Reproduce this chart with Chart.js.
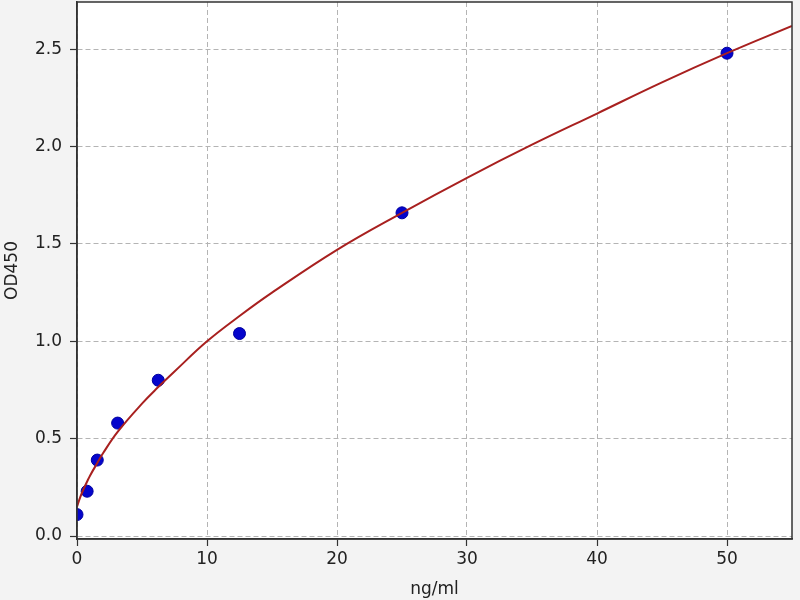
<!DOCTYPE html>
<html>
<head>
<meta charset="utf-8">
<script src="https://cdn.jsdelivr.net/npm/chart.js@4.4.1/dist/chart.umd.min.js"></script>
<style>
  html, body { margin: 0; padding: 0; background: #f3f3f3; }
  canvas { display: block; }
</style>
</head>
<body>
<canvas id="curveChart" width="800" height="600"></canvas>
<script>
// Standard concentrations (ng/ml) and measured OD450
var concentrations = [0, 0.78, 1.56, 3.125, 6.25, 12.5, 25, 50];
var odValues = [0.11, 0.23, 0.39, 0.58, 0.80, 1.04, 1.66, 2.48];

// Fitted curve
var fitX = [0, 0.25, 0.5, 0.78, 1, 1.56, 2, 3.125, 5, 6.25, 7.5, 10, 12.5, 15, 20, 25, 30, 35, 40, 45, 50, 55];
var fitY = [0.15, 0.20, 0.24, 0.28, 0.31, 0.375, 0.425, 0.535, 0.68, 0.765, 0.845, 1.00, 1.13, 1.25, 1.47, 1.66, 1.84, 2.01, 2.17, 2.33, 2.48, 2.62];

var xTicks = [0, 10, 20, 30, 40, 50];
var yTicks = [0, 0.5, 1.0, 1.5, 2.0, 2.5];

function pairs(xs, ys) {
    return xs.map(function (x, i) { return { x: x, y: ys[i] }; });
}

// white plot area + frame on all four sides
var framePlugin = {
    id: 'frame',
    beforeDraw: function (chart) {
        var c = chart.ctx, a = chart.chartArea;
        c.save();
        c.fillStyle = '#f3f3f3';
        c.fillRect(0, 0, chart.width, chart.height);
        c.fillStyle = '#ffffff';
        c.fillRect(a.left, a.top, a.right - a.left, a.bottom - a.top);
        c.restore();
    },
    afterDraw: function (chart) {
        var c = chart.ctx, a = chart.chartArea;
        c.save();
        c.strokeStyle = '#333333';
        c.lineWidth = 1.5;
        c.strokeRect(a.left, a.top, a.right - a.left, a.bottom - a.top);
        c.restore();
    }
};

var font = { family: 'DejaVu Sans', size: 17 };
var gridOpts = {
    color: '#b4b4b4',
    lineWidth: 1,
    tickLength: 7,
    tickColor: '#333333',
    tickWidth: 1.2
};
var borderOpts = { display: true, color: '#333333', width: 1.5, dash: [5, 3] };

new Chart(document.getElementById('curveChart').getContext('2d'), {
    type: 'scatter',
    data: {
        datasets: [{
            type: 'line',
            label: 'fit',
            data: pairs(fitX, fitY),
            borderColor: '#a8201f',
            borderWidth: 2,
            pointRadius: 0,
            fill: false,
            tension: 0.4
        }, {
            label: 'standards',
            data: pairs(concentrations, odValues),
            backgroundColor: '#0505cc',
            borderColor: '#0000a0',
            borderWidth: 1,
            pointRadius: 6,
            clip: 0
        }]
    },
    plugins: [framePlugin],
    options: {
        responsive: false,
        devicePixelRatio: 1,
        animation: false,
        layout: { autoPadding: false, padding: { top: 2, right: 8, left: 0, bottom: 0 } },
        plugins: {
            legend: { display: false },
            tooltip: { enabled: false }
        },
        scales: {
            x: {
                type: 'linear',
                min: 0,
                max: 55,
                afterFit: function (s) { s.height = 61; s.paddingLeft = 0; s.paddingRight = 0; },
                afterBuildTicks: function (s) { s.ticks = xTicks.map(function (v) { return { value: v }; }); },
                ticks: { font: font, color: '#222222', padding: 3, includeBounds: false },
                grid: gridOpts,
                border: borderOpts,
                title: { display: true, text: 'ng/ml', font: font, color: '#222222', padding: { top: 0, bottom: 0 } }
            },
            y: {
                type: 'linear',
                min: -0.0154,
                max: 2.743,
                afterFit: function (s) { s.width = 77; s.paddingTop = 0; s.paddingBottom = 0; },
                afterBuildTicks: function (s) { s.ticks = yTicks.map(function (v) { return { value: v }; }); },
                ticks: {
                    font: font, color: '#222222', padding: 8, includeBounds: false,
                    callback: function (v) { return v.toFixed(1); }
                },
                grid: gridOpts,
                border: borderOpts,
                title: { display: true, text: 'OD450', font: font, color: '#222222', padding: { top: 2, bottom: 0 } }
            }
        }
    }
});
</script>
</body>
</html>
